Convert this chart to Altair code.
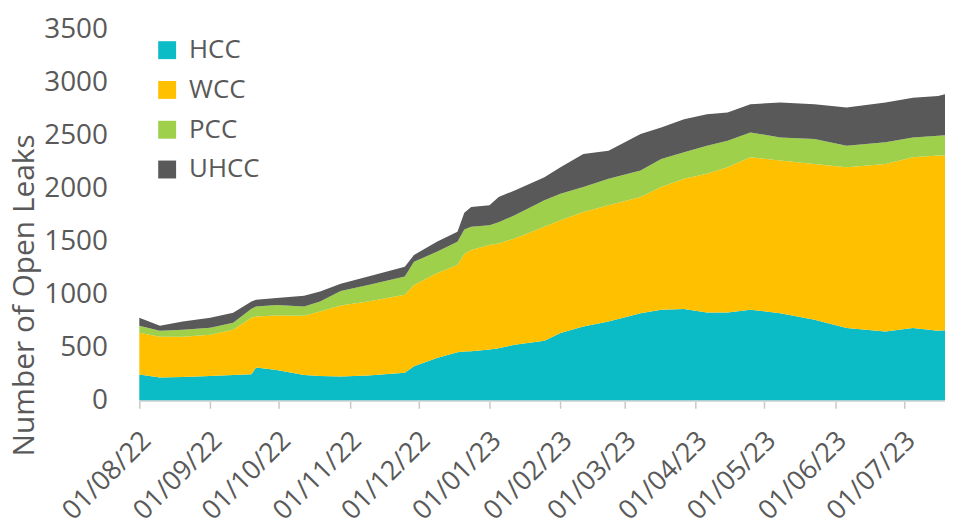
import altair as alt
import pandas as pd

dates = ["2022-08-01","2022-08-10","2022-08-20","2022-09-01","2022-09-11","2022-09-19","2022-09-21","2022-09-30",
         "2022-10-12","2022-10-19","2022-10-28","2022-11-09","2022-11-25","2022-11-29","2022-12-09","2022-12-18",
         "2022-12-21","2022-12-24","2023-01-01","2023-01-05","2023-01-12","2023-01-25","2023-02-01","2023-02-11",
         "2023-02-22","2023-03-08","2023-03-17","2023-03-27","2023-04-06","2023-04-15","2023-04-25","2023-05-08",
         "2023-05-23","2023-06-06","2023-06-23","2023-07-05","2023-07-16","2023-07-19"]

hcc = [244,216,219,228,238,245,310,285,238,228,225,235,260,322,400,453,460,463,478,490,
       525,562,635,697,744,822,854,860,829,829,854,822,760,682,650,682,657,660]
wcc = [394,384,381,391,428,534,481,515,559,610,670,697,735,766,798,823,920,954,986,990,
       1002,1074,1063,1079,1095,1095,1157,1229,1307,1369,1439,1439,1470,1516,1580,1611,1651,1650]
pcc = [66,57,66,66,66,84,94,100,88,94,135,156,172,219,203,219,230,219,187,200,
       218,250,250,235,250,250,266,250,266,251,234,219,235,204,203,187,188,190]
uhcc = [74,47,78,93,94,69,63,66,100,94,70,79,93,63,94,94,160,187,188,237,
        235,219,250,313,266,344,297,313,297,266,266,328,328,359,375,375,375,387]

series = ["HCC", "WCC", "PCC", "UHCC"]
colors = ["#0BBBC5", "#FFC000", "#9ED04B", "#595959"]
tick_months = [(2022, m) for m in range(8, 13)] + [(2023, m) for m in range(1, 8)]

rows = []
for name, vals in zip(series, [hcc, wcc, pcc, uhcc]):
    for d, v in zip(dates, vals):
        rows.append({"date": d, "series": name, "value": v, "rank": series.index(name)})
df = pd.DataFrame(rows)

grey = "#595959"

chart = alt.Chart(df).mark_area(interpolate="linear").encode(
    x=alt.X("date:T",
            scale=alt.Scale(type="utc", domain=[alt.DateTime(year=2022, month=8, date=1, utc=True),
                                                alt.DateTime(year=2023, month=7, date=19, utc=True)]),
            axis=alt.Axis(title=None, labelExpr="utcFormat(datum.value, '%d/%m/%y')",
                          values=[alt.DateTime(year=y, month=m, date=1, utc=True) for y, m in tick_months],
                          labelAngle=-45, labelAlign="right", labelBaseline="middle",
                          labelFontSize=27, labelFont="Open Sans", labelColor=grey,
                          labelPadding=28, labelOffset=7, labelOverlap=False, labelFlush=False,
                          domainColor="#d9d9d9", domainWidth=2.5,
                          tickColor="#c8c8c8", tickSize=8, tickWidth=1.5, grid=False)),
    y=alt.Y("value:Q", stack="zero",
            scale=alt.Scale(domain=[0, 3500], nice=False),
            axis=alt.Axis(title="Number of Open Leaks", values=list(range(0, 3501, 500)), format="d",
                          labelFontSize=28, labelFont="Open Sans", labelColor=grey,
                          labelPadding=32, domain=False, ticks=False, grid=False,
                          titleFontSize=30, titleFont="Open Sans", titleColor=grey,
                          titleFontWeight="normal", titleAngle=270,
                          titleX=-115, titleY=267, titleAlign="center", titleBaseline="middle")),
    color=alt.Color("series:N",
                    scale=alt.Scale(domain=series, range=colors),
                    legend=alt.Legend(title=None, orient="none", legendX=15, legendY=8,
                                      symbolType="square", symbolSize=324, symbolStrokeWidth=0,
                                      labelFontSize=26, labelFont="Open Sans", labelColor=grey,
                                      labelOffset=9, rowPadding=14)),
    order=alt.Order("rank:Q", sort="ascending"),
).properties(
    width=810, height=373,
    padding={"left": 132, "top": 20, "right": 0, "bottom": 124},
    autosize=alt.AutoSizeParams(type="none"),
).configure_view(stroke=None)

chart.save("out.html", embed_options={"renderer": "svg", "actions": False})
